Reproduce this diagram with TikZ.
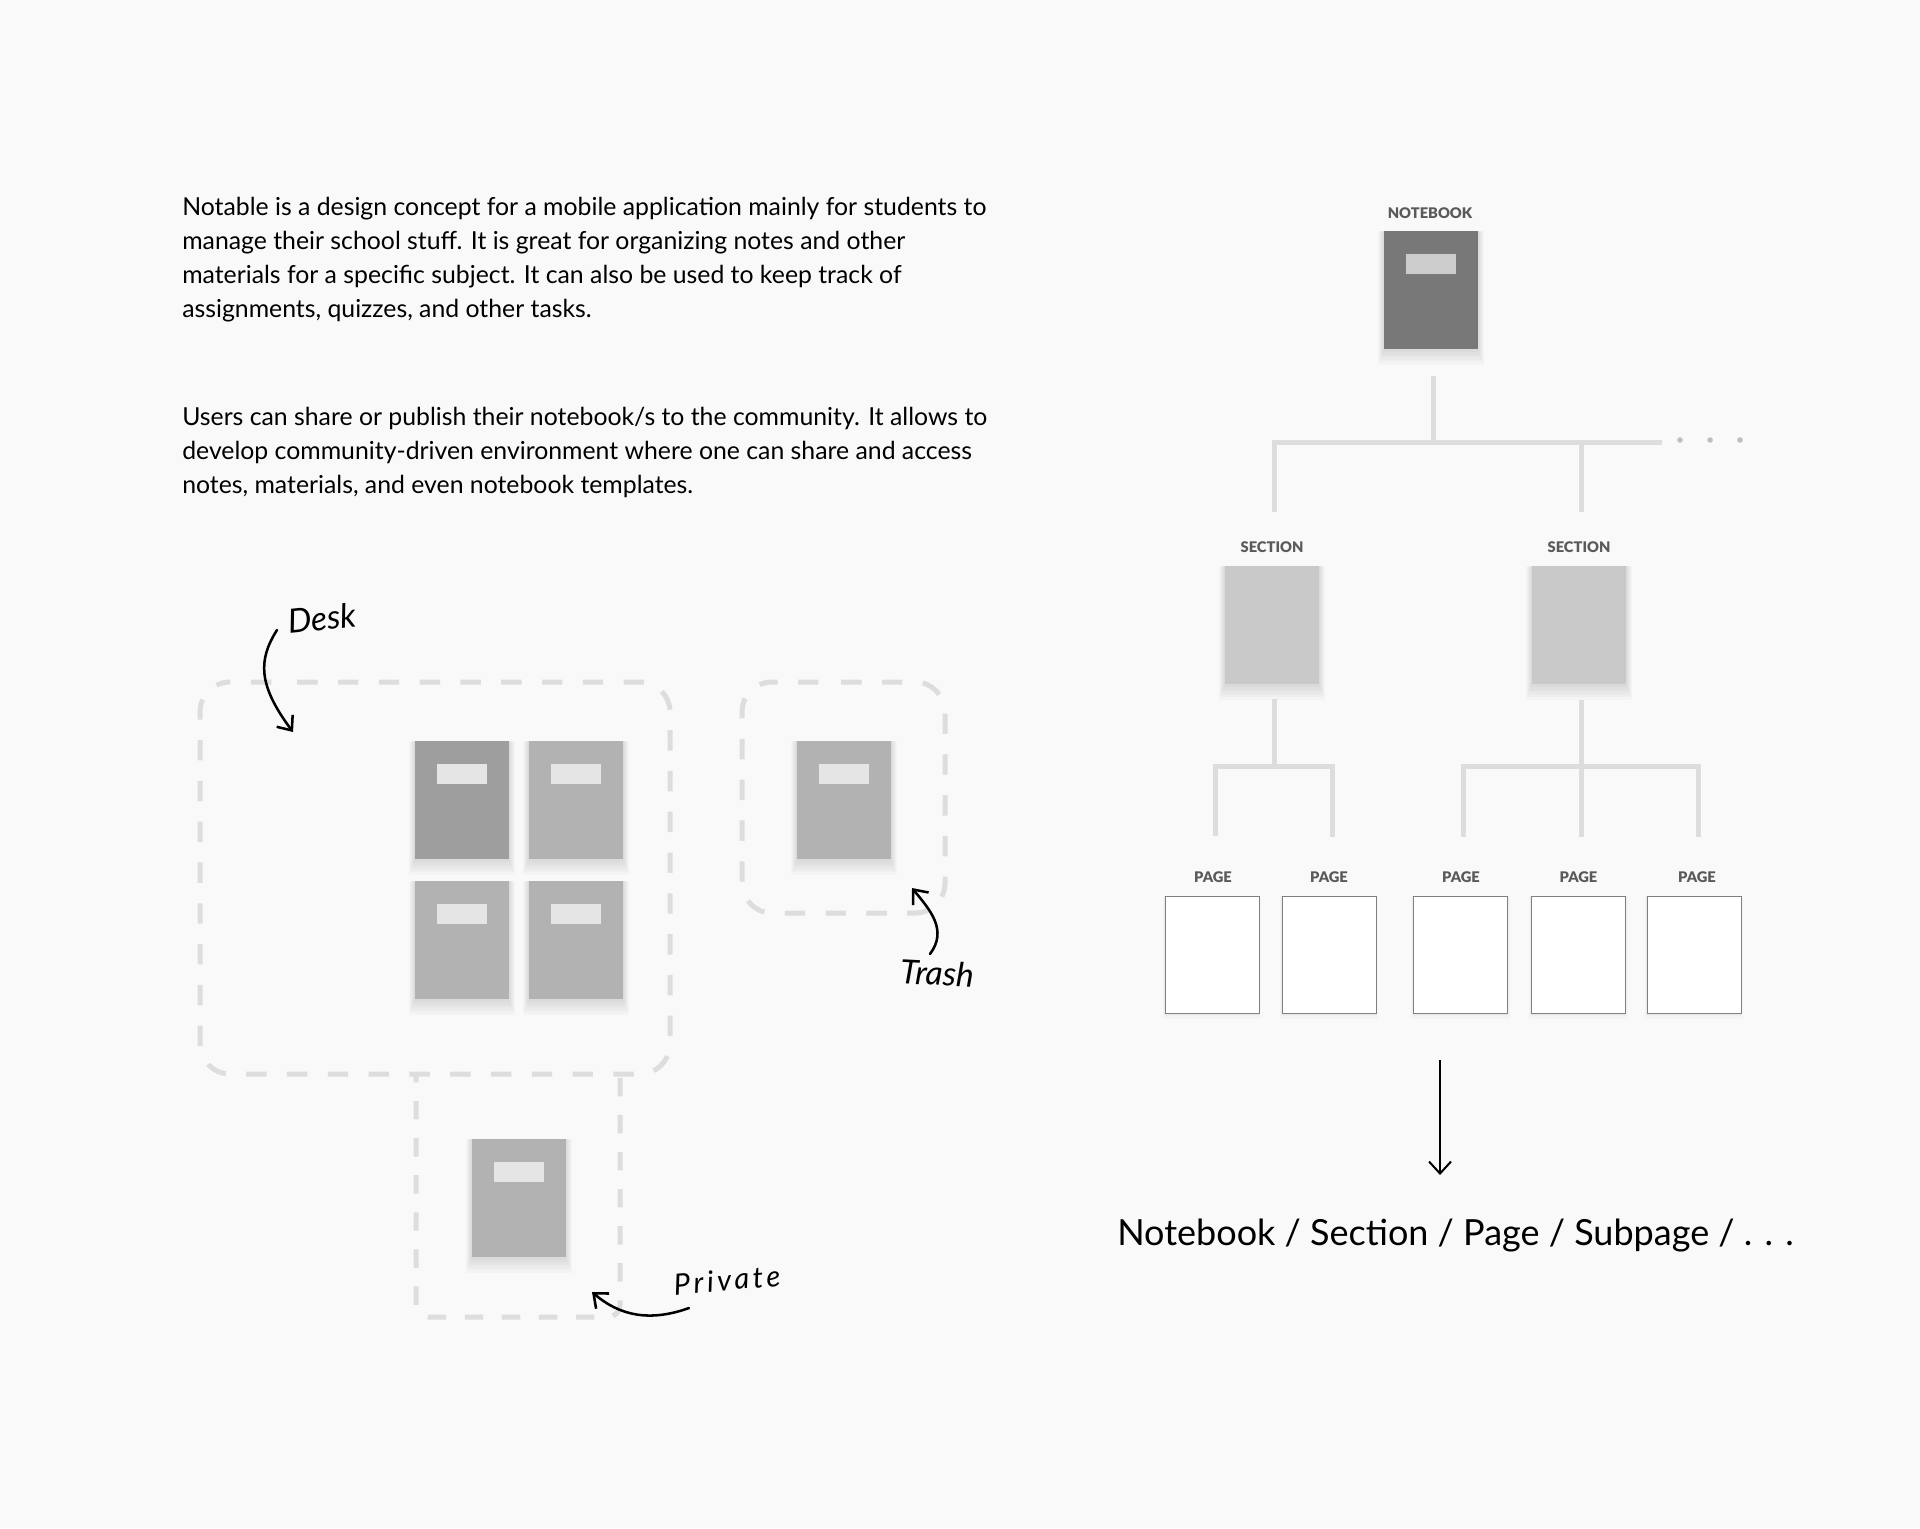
\documentclass[tikz,border=0pt]{standalone}
\usepackage{fontspec}
\usepackage{xcolor}
\usetikzlibrary{arrows.meta,shadows}
\setmainfont{Lato}
\newfontfamily\handfont{Lato Italic}
\newfontfamily\capfont{Lato Black}
\definecolor{paper}{HTML}{F9F9F9}
\definecolor{dashgrey}{HTML}{DDDDDD}
\definecolor{capgrey}{HTML}{5A5A5A}
\tikzset{
  softshade/.style 2 args={general shadow={shadow xshift=0pt,shadow yshift=-#2,shadow scale=#1,fill=black,opacity=.018}},
  softshades/.style={softshade={1.13}{5.5pt},softshade={1.11}{4.6pt},softshade={1.09}{3.8pt},softshade={1.07}{2.9pt},softshade={1.05}{2.1pt},softshade={1.03}{1.2pt}},
  thinshades/.style={softshade={1.05}{2.1pt},softshade={1.03}{1.2pt},softshade={1.015}{.7pt}},
  bookbody/.style={rectangle,inner sep=0pt,minimum width=70.5pt,minimum height=88.5pt,softshades},
  booktag/.style={rectangle,inner sep=0pt,minimum width=37.5pt,minimum height=15pt,fill=#1},
  pagebody/.style={rectangle,inner sep=0pt,minimum width=70.5pt,minimum height=87.75pt,fill=white,draw=black!50,line width=.7pt,thinshades},
  dashbox/.style={draw=dashgrey,line width=3.75pt,dash pattern=on 15.3pt off 15.3pt},
  treeline/.style={draw=dashgrey,line width=3.75pt},
  handarrow/.style={line width=1.9pt,line cap=round,-{Straight Barb[length=9pt,width=15pt,line width=1.9pt]}},
  captext/.style={font=\capfont\fontsize{11}{13}\selectfont,text=capgrey,inner sep=0pt},
  handtext/.style={inner sep=0pt},
  bodytext/.style={anchor=north west,inner sep=0pt,align=left,font=\fontsize{18.6}{25.5}\selectfont}
}
\begin{document}
\begin{tikzpicture}[x=0.75pt,y=0.75pt,yscale=-1]
        \useasboundingbox (0,0) rectangle (1920,1528);
        \fill [paper] (0,0) rectangle (1920,1528);

        % Intro text
        \node [bodytext] (introone) at (182,197) {Notable is a design concept for a mobile application mainly for students to\\manage their school stuff. It is great for organizing notes and other\\materials for a specific subject. It can also be used to keep track of\\assignments, quizzes, and other tasks.};
        \node [bodytext] (introtwo) at (182,407) {Users can share or publish their notebook/s to the community. It allows to\\develop community-driven environment where one can share and access\\notes, materials, and even notebook templates.};

        % Dashed areas
        \draw [dashbox,rounded corners=22.5pt,dash phase=22.95pt] (257,682) -- (670,682) -- (670,1074) -- (200,1074) -- (200,682) -- cycle;
        \draw [dashbox,rounded corners=22.5pt,dash phase=22.95pt] (801,682) -- (945,682) -- (945,913) -- (742,913) -- (742,682) -- cycle;
        \draw [dashbox,rounded corners=9pt,dash pattern=on 13.8pt off 14pt,dash phase=9pt] (416,1076) -- (416,1317) -- (620,1317) -- (620,1076);

        % Desk books
        \node [bookbody,fill=black!38] (deskbooka) at (462,800) {};
        \node [booktag=black!10] (desktaga) at (462,774) {};
        \node [bookbody,fill=black!30] (deskbookb) at (576,800) {};
        \node [booktag=black!10] (desktagb) at (576,774) {};
        \node [bookbody,fill=black!30] (deskbookc) at (462,940) {};
        \node [booktag=black!10] (desktagc) at (462,914) {};
        \node [bookbody,fill=black!30] (deskbookd) at (576,940) {};
        \node [booktag=black!10] (desktagd) at (576,914) {};
        % Trash and private books
        \node [bookbody,fill=black!30] (trashbook) at (844,800) {};
        \node [booktag=black!10] (trashtag) at (844,774) {};
        \node [bookbody,fill=black!30] (privatebook) at (519,1198) {};
        \node [booktag=black!10] (privatetag) at (519,1172) {};

        % Hand notes
        \node [handtext,rotate=6,font=\handfont\fontsize{25}{28}\selectfont] (desknote) at (322,618) {Desk};
        \node [handtext,rotate=-3,font=\handfont\fontsize{25}{28}\selectfont] (trashnote) at (937,973) {Trash};
        \node [handtext,rotate=5,font=\handfont\fontsize{22}{26}\selectfont\addfontfeature{LetterSpace=12}] (privatenote) at (727,1280) {Private};
        \coordinate (deskfrom) at (277,630);
        \coordinate (deskto) at (293,732);
        \coordinate (trashfrom) at (930,954);
        \coordinate (trashto) at (912,888);
        \coordinate (privatefrom) at (689,1308);
        \coordinate (privateto) at (592,1292);
        \draw [handarrow] (deskfrom) .. controls (258,660) and (258,685) .. (deskto);
        \draw [handarrow] (trashfrom) .. controls (948,930) and (930,910) .. (trashto);
        \draw [handarrow] (privatefrom) .. controls (650,1322) and (620,1316) .. (privateto);

        % Notebook
        \node [captext] (notebookcap) at (1430,213) {NOTEBOOK};
        \node [bookbody,fill=black!53] (notebook) at (1431,290) {};
        \node [booktag=black!20] (notebooktag) at (1430.5,264) {};
        \coordinate (notebookstem) at (1433,376);
        \coordinate (notebookjoin) at (1433,442);
        \coordinate (notebookrun) at (1662,442);
        \coordinate (sectiondropa) at (1274,512);
        \coordinate (sectiondropb) at (1581,512);
        \coordinate (sectionjoinb) at (1581,442);
        \draw [treeline] (notebookstem) -- (notebookjoin);
        \draw [treeline] (sectiondropa) |- (notebookrun);
        \draw [treeline] (sectionjoinb) -- (sectiondropb);
        \fill [black!25] (1680,440) circle [radius=2.8] (1710,440) circle [radius=2.8] (1740,440) circle [radius=2.8];

        % Sections
        \node [captext] (sectioncapa) at (1272,547) {SECTION};
        \node [captext] (sectioncapb) at (1579,547) {SECTION};
        \node [bookbody,fill=black!21] (sectiona) at (1272,625) {};
        \node [bookbody,fill=black!21] (sectionb) at (1579,625) {};

        %Left branch
        \coordinate (leftstem) at (1274,699);
        \coordinate (leftjoin) at (1274,766);
        \coordinate (pagedropa) at (1215,836);
        \coordinate (pagedropb) at (1332,837);
        \draw [treeline] (leftstem) -- (leftjoin);
        \draw [treeline] (pagedropa) |- (pagedropb |- leftjoin) -- (pagedropb);
        %Right branch
        \coordinate (rightstem) at (1581,700);
        \coordinate (rightjoin) at (1581,766);
        \coordinate (pagedropc) at (1463,837);
        \coordinate (pagedropd) at (1581,837);
        \coordinate (pagedrope) at (1698,837);
        \draw [treeline] (rightstem) -- (pagedropd);
        \draw [treeline] (pagedropc) |- (pagedrope |- rightjoin) -- (pagedrope);

        % Pages
        \node [captext] (pagecapa) at (1213,877) {PAGE};
        \node [captext] (pagecapb) at (1329,877) {PAGE};
        \node [captext] (pagecapc) at (1461,877) {PAGE};
        \node [captext] (pagecapd) at (1578.5,877) {PAGE};
        \node [captext] (pagecape) at (1697,877) {PAGE};
        \node [pagebody] (pagea) at (1212,954.5) {};
        \node [pagebody] (pageb) at (1329,954.5) {};
        \node [pagebody] (pagec) at (1460.5,954.5) {};
        \node [pagebody] (paged) at (1578.5,954.5) {};
        \node [pagebody] (pagee) at (1694,954.5) {};

        % Path line
        \node [anchor=base west,inner sep=0pt,font=\fontsize{27}{30}\selectfont] (pathtext) at (1117,1245) {Notebook / Section / Page / Subpage / . . .};
        \coordinate (pathfrom) at (1440,1060);
        \coordinate (pathto) at (1440,1175);
        \draw [line width=1.5pt,-{Straight Barb[length=9pt,width=16.5pt,line width=1.5pt]}] (pathfrom) -- (pathto);
\end{tikzpicture}
\end{document}
